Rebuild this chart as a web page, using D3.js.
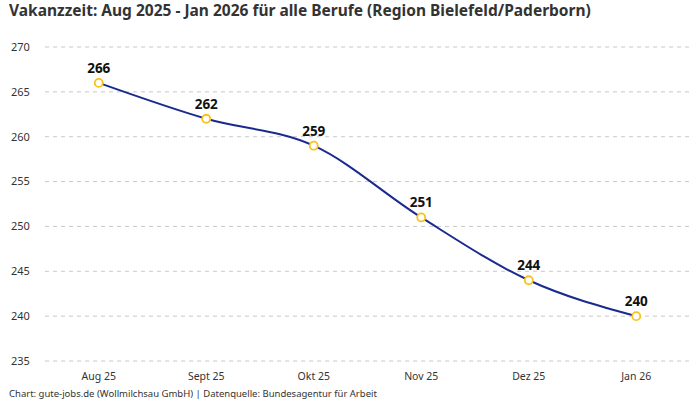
<!DOCTYPE html>
<html><head><meta charset="utf-8">
<script src="https://cdn.jsdelivr.net/npm/d3@7"></script>
<style>body{margin:0;background:#fff}svg{display:block}</style>
</head><body>
<svg id="c" width="700" height="400"></svg>
<script>
const categories = ["Aug 25","Sept 25","Okt 25","Nov 25","Dez 25","Jan 26"];
const values = [266,262,259,251,244,240];
const yTicks = [235,240,245,250,255,260,265,270];
const title = "Vakanzzeit: Aug 2025 - Jan 2026 für alle Berufe (Region Bielefeld/Paderborn)";
const source = "Chart: gute-jobs.de (Wollmilchsau GmbH) | Datenquelle: Bundesagentur für Arbeit";

const font = "'Noto Sans', 'Open Sans', sans-serif";
const svg = d3.select("#c");
const x = d3.scalePoint().domain(categories).range([45,690]).padding(0.5);
const y = d3.scaleLinear().domain([235,270]).range([361,47]);

svg.append("text").attr("x",9).attr("y",16).attr("font-family",font).attr("font-weight","bold")
  .attr("font-size",15.5).attr("fill","#333").text(title);

const g = svg.append("g");
yTicks.forEach(t=>{
  g.append("line").attr("x1",45).attr("x2",690).attr("y1",y(t)).attr("y2",y(t))
    .attr("stroke","#c8c8c8").attr("stroke-dasharray","4,4").attr("stroke-width",1);
  g.append("text").attr("x",11).attr("y",y(t)).attr("dy","0.35em").attr("font-family",font)
    .attr("font-size",11).attr("fill","#333").text(t);
});
categories.forEach(c=>{
  g.append("text").attr("x",x(c)).attr("y",380).attr("text-anchor","middle").attr("font-family",font)
    .attr("font-size",10.5).attr("fill","#333").text(c);
});

const data = categories.map((c,i)=>({c,v:values[i]}));
const line = d3.line().x(d=>x(d.c)).y(d=>y(d.v)).curve(d3.curveMonotoneX);
g.append("path").datum(data).attr("d",line).attr("fill","none").attr("stroke","#1a2a8f").attr("stroke-width",2);
g.selectAll("circle").data(data).join("circle").attr("cx",d=>x(d.c)).attr("cy",d=>y(d.v)).attr("r",4)
  .attr("fill","#fff").attr("stroke","#f7c21a").attr("stroke-width",1.8);
g.selectAll("text.lbl").data(data).join("text").attr("class","lbl").attr("x",d=>x(d.c)).attr("y",d=>y(d.v)-10)
  .attr("text-anchor","middle").attr("font-family",font).attr("font-weight","bold").attr("font-size",13.5)
  .attr("fill","#111").text(d=>d.v);

svg.append("text").attr("x",9).attr("y",397).attr("font-family",font).attr("font-size",9.5)
  .attr("fill","#333").text(source);
</script>
</body></html>
